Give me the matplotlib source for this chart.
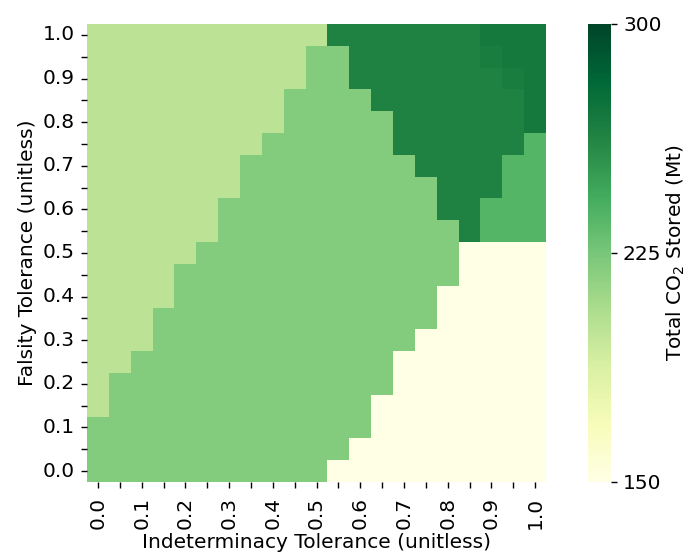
import numpy as np
import pandas as pd
import matplotlib
matplotlib.use("Agg")
import matplotlib.pyplot as plt
import seaborn as sns

# tolerance grids (0.00 .. 1.00 in 0.05 steps)
indeterminacy = [round(0.05 * i, 2) for i in range(21)]
falsity = [round(0.05 * i, 2) for i in range(21)][::-1]  # top row = 1.0

# stored CO2 levels (Mt)
LEVELS = {
    "Y": 150,   # pale yellow
    "L": 200,   # light green
    "M": 221,   # mid green
    "E": 237,   # medium green
    "D": 264,   # dark green
    "J": 267,
    "K": 270,   # darkest corner
}

# one string per falsity row, top (1.0) to bottom (0.0)
rows = [
    "LLLLLLLLLLLDDDDDDDKKK",
    "LLLLLLLLLLMMDDDDDDJKK",
    "LLLLLLLLLLMMDDDDDDDJK",
    "LLLLLLLLLMMMMDDDDDDDK",
    "LLLLLLLLLMMMMMDDDDDDK",
    "LLLLLLLLMMMMMMDDDDDDE",
    "LLLLLLLMMMMMMMMDDDDEE",
    "LLLLLLLMMMMMMMMMDDDEE",
    "LLLLLLMMMMMMMMMMDDEEE",
    "LLLLLLMMMMMMMMMMMDEEE",
    "LLLLLMMMMMMMMMMMMYYYY",
    "LLLLMMMMMMMMMMMMMYYYY",
    "LLLLMMMMMMMMMMMMYYYYY",
    "LLLMMMMMMMMMMMMMYYYYY",
    "LLLMMMMMMMMMMMMYYYYYY",
    "LLMMMMMMMMMMMMYYYYYYY",
    "LMMMMMMMMMMMMMYYYYYYY",
    "LMMMMMMMMMMMMYYYYYYYY",
    "MMMMMMMMMMMMMYYYYYYYY",
    "MMMMMMMMMMMMYYYYYYYYY",
    "MMMMMMMMMMMYYYYYYYYYY",
]
for r in rows:
    assert len(r) == 21, r

stored = pd.DataFrame([[LEVELS[c] for c in r] for r in rows],
                      index=falsity, columns=indeterminacy)

FS = 14.5

fig = plt.figure(figsize=(6.93, 5.55), dpi=100)
ax = fig.add_axes([87 / 693, 73 / 555, 459 / 693, 458 / 555])
cax = fig.add_axes([588 / 693, 73 / 555, 23 / 693, 458 / 555])

sns.heatmap(stored, ax=ax, cbar_ax=cax, cmap="YlGn", vmin=150, vmax=300,
            cbar_kws={"ticks": [150, 225, 300]})

xlabels = [f"{v:.1f}" if i % 2 == 0 else "" for i, v in enumerate(indeterminacy)]
ylabels = [f"{v:.1f}" if i % 2 == 0 else "" for i, v in enumerate(falsity)]
ax.set_xticks(np.arange(21) + 0.5)
ax.set_xticklabels(xlabels, rotation=90, fontsize=FS)
ax.set_yticks(np.arange(21) + 0.5)
ax.set_yticklabels(ylabels, rotation=0, fontsize=FS)
ax.tick_params(length=4.3, width=1.0, pad=4.3)
ax.tick_params(axis="x", pad=6.5)
ax.set_xlabel("Indeterminacy Tolerance (unitless)", fontsize=FS, labelpad=3)
ax.set_ylabel("Falsity Tolerance (unitless)", fontsize=FS, labelpad=4)

cax.tick_params(labelsize=FS, length=4.3, width=1.0, pad=4.3)
cax.set_ylabel("Total CO$_2$ Stored (Mt)", fontsize=FS, labelpad=2)

fig.savefig("out.png", dpi=100)
